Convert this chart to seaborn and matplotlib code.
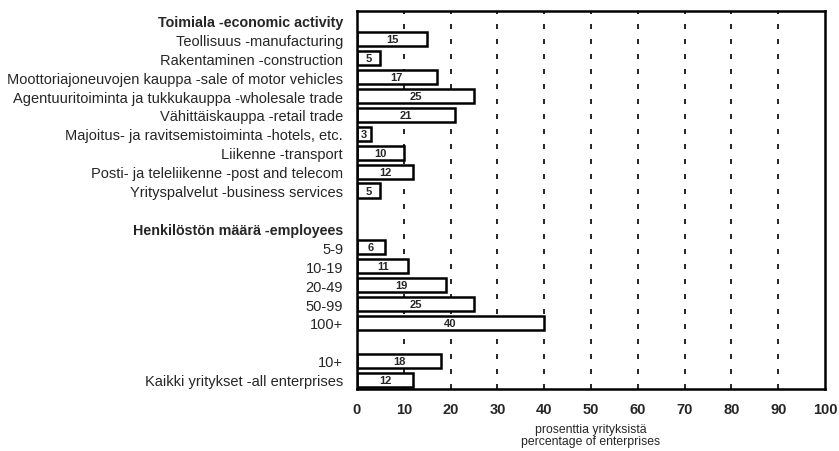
"""
Share of enterprises by economic activity and size class, horizontal bar chart
"""
import matplotlib
matplotlib.use("Agg")
import matplotlib.pyplot as plt
import seaborn as sns
import pandas as pd

sns.set_style("white")
plt.rcParams["font.family"] = ["Liberation Sans", "DejaVu Sans"]

# data
activity_header = "Toimiala -economic activity"
activity_labels = [
    "Teollisuus -manufacturing",
    "Rakentaminen -construction",
    "Moottoriajoneuvojen kauppa -sale of motor vehicles",
    "Agentuuritoiminta ja tukkukauppa -wholesale trade",
    "Vähittäiskauppa -retail trade",
    "Majoitus- ja ravitsemistoiminta -hotels, etc.",
    "Liikenne -transport",
    "Posti- ja teleliikenne -post and telecom",
    "Yrityspalvelut -business services",
]
activity_values = [15, 5, 17, 25, 21, 3, 10, 12, 5]

size_header = "Henkilöstön määrä -employees"
size_labels = ["5-9", "10-19", "20-49", "50-99", "100+"]
size_values = [6, 11, 19, 25, 40]

total_labels = ["10+", "Kaikki yritykset -all enterprises"]
total_values = [18, 12]

headers = [activity_header, size_header]
order = ([activity_header] + activity_labels + [""] + [size_header] + size_labels
         + [" "] + total_labels)

df = pd.DataFrame({
    "label": activity_labels + size_labels + total_labels,
    "value": activity_values + size_values + total_values,
})

fig = plt.figure(figsize=(8.39, 4.52), dpi=100)
ax = fig.add_axes([0.4255, 0.137, 0.5578, 0.8365])

sns.barplot(data=df, x="value", y="label", order=order, orient="h",
            color="white", edgecolor="black", linewidth=1.8, width=0.75,
            saturation=1, ax=ax)

for c in ax.containers:
    ax.bar_label(c, label_type="center", fontsize=8, fontweight="bold")

# dashed gridlines
for v in range(10, 100, 10):
    ax.axvline(v, color="black", linestyle=(0, (3, 6)), linewidth=1.2, zorder=0)

ax.set_xlim(0, 100)
ax.set_ylim(len(order) - 0.5, -0.5)
ax.set_xticks(range(0, 101, 10))
ax.tick_params(axis="both", length=0)
ax.tick_params(axis="x", labelsize=10.5, pad=9)
ax.tick_params(axis="y", labelsize=10.5, pad=10)
for t in ax.get_xticklabels():
    t.set_fontweight("bold")
for t in ax.get_yticklabels():
    if t.get_text() in headers:
        t.set_fontweight("bold")
        t.set_fontsize(10.3)

ax.set_ylabel("")
ax.set_xlabel("prosenttia yrityksistä\npercentage of enterprises", fontsize=8.8,
              labelpad=5, linespacing=1.05)

for s in ax.spines.values():
    s.set_visible(True)
    s.set_color("black")
    s.set_linewidth(1.8)

plt.savefig("out.png", dpi=100)
